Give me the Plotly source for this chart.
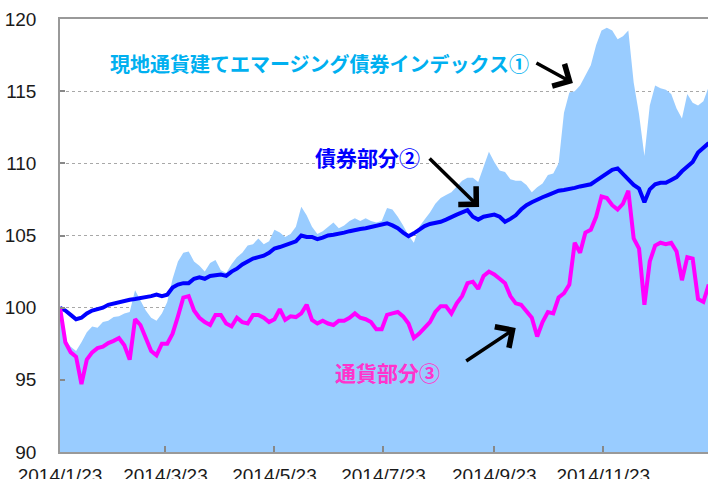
import plotly.graph_objects as go
import pandas as pd

# observation dates (every 3 days from 2014/1/23)
dates = pd.date_range("2014-01-23", periods=122, freq="3D")

# 現地通貨建てエマージング債券インデックス① (area)
index_vals = [
    100.0, 97.8, 97.3, 97.0, 97.6, 98.3, 98.7, 98.6, 99.0, 99.1,
    99.35, 99.4, 99.6, 99.7, 101.2, 100.5, 99.8, 99.3, 99.1, 99.6,
    100.4, 102.0, 103.2, 103.8, 103.9, 103.2, 102.9, 102.5, 103.1, 103.3,
    102.6, 102.4, 103.0, 103.5, 103.8, 104.3, 104.4, 104.8, 104.4, 104.6,
    105.4, 105.2, 104.9, 105.1, 105.6, 107.0, 106.4, 105.6, 105.1, 105.3,
    105.6, 105.9, 105.5, 105.7, 106.0, 106.2, 106.0, 106.2, 106.0, 105.9,
    106.0, 106.9, 106.8, 106.3, 105.7, 105.0, 104.5, 105.6, 106.1, 106.6,
    107.2, 107.6, 107.8, 108.0, 108.4, 108.8, 109.0, 109.0, 108.7, 109.8,
    110.8, 110.1, 109.5, 109.4, 108.9, 108.8, 108.8, 108.5, 108.0, 108.35,
    108.6, 109.2, 109.3, 110.0, 113.5, 114.9, 115.0, 115.4, 116.1, 116.8,
    118.2, 119.2, 119.4, 119.2, 118.6, 118.8, 119.2, 115.6, 113.4, 110.5,
    114.0, 115.4, 115.2, 115.1, 114.8, 113.8, 113.1, 114.8, 114.2, 114.0,
    114.3, 115.3,
]

# 債券部分②
bond_vals = [
    100.0, 99.8, 99.5, 99.2, 99.3, 99.6, 99.8, 99.9, 100.0, 100.2,
    100.3, 100.4, 100.5, 100.55, 100.6, 100.65, 100.7, 100.8, 100.9, 100.8,
    100.9, 101.4, 101.6, 101.7, 101.7, 102.0, 102.1, 102.0, 102.2, 102.25,
    102.3, 102.2, 102.5, 102.7, 103.0, 103.2, 103.4, 103.5, 103.6, 103.8,
    104.1, 104.2, 104.35, 104.45, 104.6, 105.0, 104.9, 104.9, 104.75, 104.85,
    105.0, 105.05, 105.1, 105.2, 105.3, 105.4, 105.45, 105.5, 105.6, 105.7,
    105.8, 105.85, 105.7, 105.5, 105.2, 104.95, 105.15, 105.4, 105.65, 105.8,
    105.85, 105.95, 106.1, 106.3, 106.45, 106.6, 106.75, 106.3, 106.1, 106.3,
    106.4, 106.45, 106.3, 105.95, 106.15, 106.4, 106.8, 107.1, 107.3, 107.5,
    107.65, 107.8, 107.95, 108.1, 108.15, 108.2, 108.3, 108.4, 108.45, 108.55,
    108.8, 109.05, 109.35, 109.55, 109.65, 109.25, 108.85, 108.5, 108.25, 107.3,
    108.2, 108.55, 108.65, 108.65, 108.85, 109.05, 109.45, 109.75, 110.1, 110.75,
    111.1, 111.4,
]

# 通貨部分③
fx_vals = [
    100.0, 97.6, 96.9, 96.6, 94.7, 96.4, 96.9, 97.2, 97.3, 97.55,
    97.7, 97.9, 97.4, 96.4, 99.2, 98.8, 97.9, 97.0, 96.7, 97.5,
    97.5, 98.2, 99.4, 100.7, 100.8, 99.8, 99.3, 99.0, 98.8, 99.5,
    99.5, 98.9, 98.7, 99.3, 99.0, 98.9, 99.5, 99.5, 99.3, 99.0,
    99.2, 99.9, 99.15, 99.4, 99.35, 99.6, 100.2, 99.15, 98.9, 99.1,
    98.9, 98.8, 99.1, 99.1, 99.3, 99.6, 99.3, 99.2, 99.0, 98.5,
    98.5, 99.5, 99.6, 99.7, 99.4, 98.9, 97.9, 98.2, 98.6, 99.0,
    99.7, 100.1, 100.1, 99.6, 100.3, 100.8, 101.7, 101.8, 101.3, 102.2,
    102.5, 102.3, 102.0, 101.7, 100.8, 100.3, 100.2, 99.8, 99.3, 98.0,
    99.0, 99.7, 99.6, 100.7, 101.0, 101.6, 104.5, 103.8, 105.2, 105.4,
    106.3, 107.7, 107.6, 107.1, 106.8, 107.2, 108.1, 104.8, 104.1, 100.2,
    103.2, 104.3, 104.5, 104.4, 104.5, 103.9, 101.9, 103.5, 103.4, 100.6,
    100.4, 101.6,
]

tick_dates = ["2014-01-23", "2014-03-23", "2014-05-23", "2014-07-23",
              "2014-09-23", "2014-11-23"]
tick_labels = ["2014/1/23", "2014/3/23", "2014/5/23", "2014/7/23",
               "2014/9/23", "2014/11/23"]

AREA = "#99CCFF"
fig = go.Figure()
fig.add_trace(go.Scatter(x=dates, y=index_vals, mode="lines",
                         line=dict(width=0, color=AREA), fill="tozeroy",
                         fillcolor=AREA, hoverinfo="skip"))
fig.add_trace(go.Scatter(x=dates, y=bond_vals, mode="lines",
                         line=dict(color="#0000FF", width=4)))
fig.add_trace(go.Scatter(x=dates, y=fx_vals, mode="lines",
                         line=dict(color="#FF00FF", width=4)))

tickfont = dict(family="Liberation Sans, Arial, sans-serif", size=19, color="#1a1a1a")
jp = "Noto Sans CJK JP, sans-serif"

fig.update_layout(
    width=708, height=479,
    margin=dict(l=60, r=0, t=19, b=27),
    paper_bgcolor="white", plot_bgcolor="white",
    showlegend=False,
    xaxis=dict(type="date", range=["2014-01-23", "2015-01-20 14:00"],
               tickvals=tick_dates, ticktext=tick_labels,
               ticks="inside", ticklen=6, tickcolor="#888888", tickwidth=1.5,
               showline=True, linecolor="#999999", linewidth=1.5, mirror=True,
               showgrid=False, zeroline=False, tickfont=tickfont,
               ticklabelstandoff=5, automargin=False),
    yaxis=dict(range=[90, 120], dtick=5, ticks="inside", ticklen=5,
               tickcolor="#888888", tickwidth=1.5,
               showline=True, linecolor="#999999", linewidth=1.5,
               showgrid=True, gridcolor="#A8A8A8", griddash="dot", gridwidth=1,
               zeroline=False, tickfont=tickfont, ticklabelstandoff=18,
               automargin=False),
)

annotations = [
    dict(x="2014-06-17", y=116.95, text="現地通貨建てエマージング債券インデックス①",
         showarrow=False, font=dict(family=jp, size=20, color="#00B0F0", weight=700)),
    dict(x="2014-07-14", y=110.44, text="債券部分②",
         showarrow=False, font=dict(family=jp, size=21, color="#0000FF", weight=700)),
    dict(x="2014-07-25 12:00", y=95.54, text="通貨部分③",
         showarrow=False, font=dict(family=jp, size=21, color="#FF33CC", weight=700)),
    dict(x="2014-11-06", y=115.56, text="", showarrow=True, ax=-38, ay=-21,
         arrowhead=4, arrowwidth=3.5, arrowsize=1.4, arrowcolor="black", standoff=0),
    dict(x="2014-09-14 12:00", y=106.97, text="", showarrow=True, ax=-51, ay=-50,
         arrowhead=4, arrowwidth=3.5, arrowsize=1.4, arrowcolor="black", standoff=0),
    dict(x="2014-10-05", y=98.59, text="", showarrow=True, ax=-51, ay=34,
         arrowhead=4, arrowwidth=3.5, arrowsize=1.4, arrowcolor="black", standoff=0),
]
fig.update_layout(annotations=annotations)

fig.write_html("out.html", config={"displayModeBar": False},
               post_script="document.body.style.margin='0';document.body.style.overflow='hidden';")
